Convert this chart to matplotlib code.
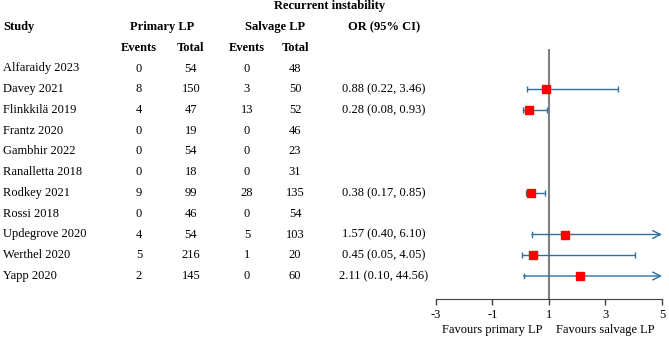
import numpy as np
import matplotlib.pyplot as plt
from matplotlib.transforms import blended_transform_factory

# -------------------------------------------------------------------
# DATA
# -------------------------------------------------------------------

studies = ["Alfaraidy 2023", "Davey 2021", "Flinkkilä 2019", "Frantz 2020",
           "Gambhir 2022", "Ranalletta 2018", "Rodkey 2021", "Rossi 2018",
           "Updegrove 2020", "Werthel 2020", "Yapp 2020"]
primary_events = [0, 8, 4, 0, 0, 0, 9, 0, 4, 5, 2]
primary_total = [54, 150, 47, 19, 54, 18, 99, 46, 54, 216, 145]
salvage_events = [0, 3, 13, 0, 0, 0, 28, 0, 5, 1, 0]
salvage_total = [48, 50, 52, 46, 23, 31, 135, 54, 103, 20, 60]
odds_ratio = [np.nan, 0.88, 0.28, np.nan, np.nan, np.nan, 0.38, np.nan, 1.57, 0.45, 2.11]
ci_low = [np.nan, 0.22, 0.08, np.nan, np.nan, np.nan, 0.17, np.nan, 0.40, 0.05, 0.10]
ci_high = [np.nan, 3.46, 0.93, np.nan, np.nan, np.nan, 0.85, np.nan, 6.10, 4.05, 44.56]

x_ticks = [-3, -1, 1, 3, 5]
x_min, x_max = -3, 5

# -------------------------------------------------------------------
# PLOT
# -------------------------------------------------------------------

plt.rcParams['font.family'] = ['Liberation Serif', 'DejaVu Serif']
plt.rcParams['font.size'] = 9
plt.rcParams['axes.unicode_minus'] = False

W, H = 669, 338
fig = plt.figure(figsize=(W / 100, H / 100), dpi=100)

# forest axes placed in pixel units
row0, row_step = 68.5, 20.75
ax_left, ax_right = 436, 662
ax_top, ax_bottom = 49, 299
ax = fig.add_axes([ax_left / W, 1 - ax_bottom / H,
                   (ax_right - ax_left) / W, (ax_bottom - ax_top) / H])
ax.set_xlim(x_min, x_max)
ax.set_ylim((ax_bottom - row0) / row_step, (ax_top - row0) / row_step)

line_color = '#2F6F9F'
rows = np.arange(len(studies))

for i in rows:
    if np.isnan(odds_ratio[i]):
        continue
    lo, hi = ci_low[i], ci_high[i]
    if hi > x_max:
        ax.plot([lo, lo], [i - 0.12, i + 0.12], color=line_color, lw=1)
        ax.annotate("", xy=(x_max, i), xytext=(lo, i),
                    arrowprops=dict(arrowstyle='->', color=line_color, lw=1,
                                    mutation_scale=14, shrinkA=0, shrinkB=0))
    else:
        ax.errorbar(odds_ratio[i], i, xerr=[[odds_ratio[i] - lo], [hi - odds_ratio[i]]],
                    fmt='none', ecolor=line_color, elinewidth=1, capsize=2, capthick=1)
    ax.plot(odds_ratio[i], i, marker='s', color='#FF0000', markersize=5.5, zorder=5)

ax.axvline(1, color='#808080', lw=1.5, zorder=1)

for side in ['top', 'right', 'left']:
    ax.spines[side].set_visible(False)
ax.spines['bottom'].set_color('#404040')
ax.set_yticks([])
ax.set_xticks(x_ticks)
ax.tick_params(axis='x', direction='out', length=4, width=1, color='#404040',
               labelsize=9, pad=3)

ax.text(-1, -0.1, "Favours primary LP", transform=blended_transform_factory(ax.transData, ax.transAxes),
        ha='center', va='top', fontsize=9)
ax.text(3, -0.1, "Favours salvage LP", transform=blended_transform_factory(ax.transData, ax.transAxes),
        ha='center', va='top', fontsize=9)

# table columns, x in figure pixels, y in row units
tr = blended_transform_factory(fig.transFigure, ax.transData)
col_x = {'study': 3, 'pe': 139, 'pt': 191, 'se': 247, 'st': 295, 'or': 384}

def fx(px):
    return px / W

for i in rows:
    ax.text(fx(col_x['study']), i, studies[i], transform=tr, ha='left', va='center', clip_on=False)
    ax.text(fx(col_x['pe']), i, str(primary_events[i]), transform=tr, ha='center', va='center', clip_on=False)
    ax.text(fx(col_x['pt']), i, str(primary_total[i]), transform=tr, ha='center', va='center', clip_on=False)
    ax.text(fx(col_x['se']), i, str(salvage_events[i]), transform=tr, ha='center', va='center', clip_on=False)
    ax.text(fx(col_x['st']), i, str(salvage_total[i]), transform=tr, ha='center', va='center', clip_on=False)
    if not np.isnan(odds_ratio[i]):
        label = f"{odds_ratio[i]:.2f} ({ci_low[i]:.2f}, {ci_high[i]:.2f})"
        ax.text(fx(col_x['or']), i, label, transform=tr, ha='center', va='center', clip_on=False)

# headers
def ytop(px):
    return 1 - px / H

fig.text(fx(330), ytop(6), "Recurrent instability", ha='center', va='center', fontweight='bold')
fig.text(fx(3), ytop(27), "Study", ha='left', va='center', fontweight='bold')
fig.text(fx(162), ytop(27), "Primary LP", ha='center', va='center', fontweight='bold')
fig.text(fx(275), ytop(27), "Salvage LP", ha='center', va='center', fontweight='bold')
fig.text(fx(384), ytop(27), "OR (95% CI)", ha='center', va='center', fontweight='bold')
for key, name in [('pe', 'Events'), ('pt', 'Total'), ('se', 'Events'), ('st', 'Total')]:
    fig.text(fx(col_x[key]), ytop(48), name, ha='center', va='center', fontweight='bold')

plt.savefig("out.png", dpi=100)
